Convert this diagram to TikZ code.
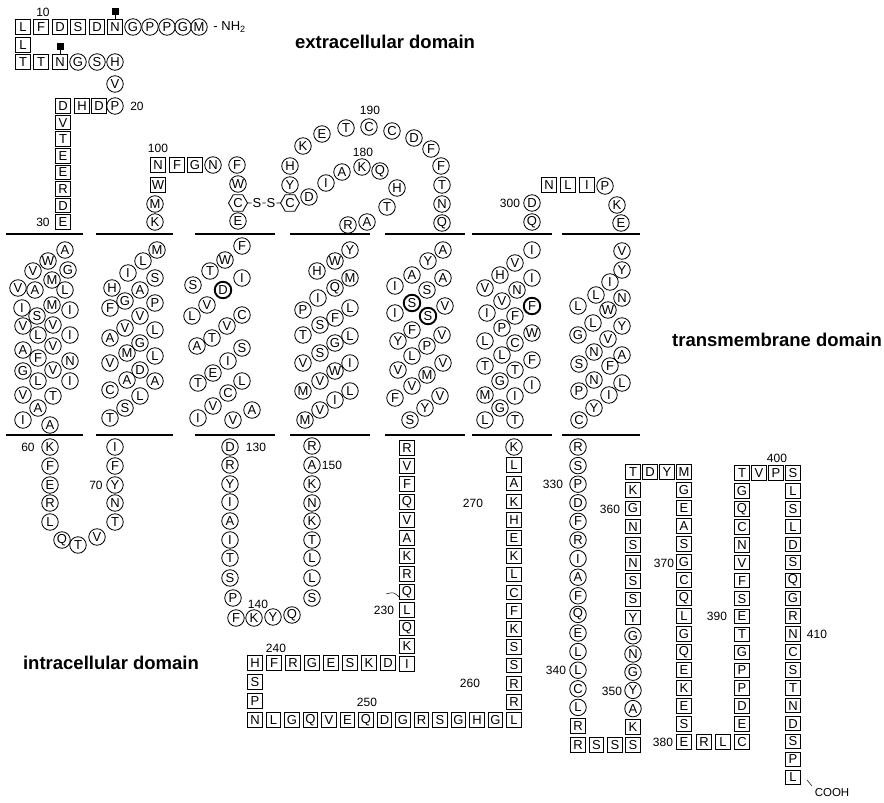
\documentclass[tikz,border=0pt]{standalone}
\usepackage{fontspec}
\setmainfont{Liberation Sans}
\usepackage{tikz}
\usetikzlibrary{positioning,shapes.geometric}

\begin{document}
\begin{tikzpicture}[x=1pt, y=-1pt, font=\fontsize{13}{13}\selectfont, line width=0.85pt,
  res/.style={circle, draw, minimum size=16.5pt, inner sep=0pt},
  box/.style={rectangle, draw, line width=1pt, minimum size=14.5pt, inner sep=0pt},
  hexres/.style={regular polygon, regular polygon sides=6, draw, minimum size=19pt, inner sep=0pt},
  keyres/.style={res, line width=1.9pt},
  num/.style={font=\fontsize{12}{12}\selectfont, inner sep=1pt},
  domlabel/.style={font=\fontsize{18.5}{20}\selectfont\bfseries},
  glyc/.style={fill=black, minimum size=7pt, inner sep=0pt},
  membrane/.style={line width=1.1pt}]

\useasboundingbox (0,0) rectangle (884,803);

\foreach \a/\b in {6/83, 96/173, 195/275, 290/370, 385/465, 472/552, 562/640} {
  \draw[membrane] (\a,234) -- (\b,234);
  \draw[membrane] (\a,435) -- (\b,435);
}

\foreach \x/\a [count=\i] in {23/L,41/F,60/D,78/S,97/D,115/N} \node[box] (ntA\i) at (\x,27) {\a};
\foreach \x/\a [count=\i] in {133/G,150/P,167/P,183/G,199/M} \node[res] (ntB\i) at (\x,27) {\a};
\node[right=2pt of ntB5] (nh2) {- NH\textsubscript{2}};
\node[box] (ntC) at (23,45) {L};
\foreach \x/\a [count=\i] in {23/T,41/T,60/N} \node[box] (ntD\i) at (\x,62) {\a};
\foreach \x/\a [count=\i] in {78/G,97/S,115/H} \node[res] (ntE\i) at (\x,62) {\a};
\node[res] (ntF) at (115,84) {V};
\node[res] (ntG) at (115,106) {P};
\foreach \x/\a [count=\i] in {63/D,82/H,99/D} \node[box] (ntH\i) at (\x,106) {\a};
\foreach \a [count=\i] in {V,T,E,E,R,D,E} \node[box] (ntK\i) at (63,{106+16.6*\i}) {\a};
\node[glyc] (gly1) at (115,11) {};
\node[glyc] (gly2) at (60,46) {};
\draw (gly1) -- (ntA6);
\draw (gly2) -- (ntD3);

\foreach \y/\a [count=\i] in {222/K,204/M} \node[res] (el1A\i) at (155,\y) {\a};
\node[box] (el1W) at (158,185) {W};
\foreach \x/\a [count=\i] in {158/N,177/F,195/G} \node[box] (el1B\i) at (\x,165) {\a};
\node[res] (el1C) at (213,165) {N};
\node[res] (el1D) at (237,165) {F};
\node[res] (el1E) at (238,184) {W};
\node[hexres] (cys1) at (238,203) {C};
\node[res] (el1F) at (238,221) {E};
\node[inner sep=0.5pt] (ss1) at (257,203) {S};
\node[inner sep=0.5pt] (ss2) at (271,203) {S};
\node[hexres] (cys2) at (290,203) {C};
\draw (cys1) -- (ss1) -- (ss2) -- (cys2);

\foreach \x/\y/\a [count=\i] in {348/225/R,367/222/A,387/207/T,397/188/H,380/171/Q,362/167/K,342/172/A,326/183/I,309/197/D}
  \node[res] (el2A\i) at (\x,\y) {\a};
\foreach \x/\y/\a [count=\i] in {290/185/Y,290/166/H,303/146/K,322/134/E,346/128/T,369/127/C,392/131/C,414/138/D,431/149/F,441/166/F,442/185/T,442/204/N,442/223/Q}
  \node[res] (el2B\i) at (\x,\y) {\a};

\foreach \y/\a [count=\i] in {222/Q,203/D} \node[res] (el3A\i) at (532,\y) {\a};
\foreach \x/\a [count=\i] in {549/N,568/L,587/I} \node[box] (el3B\i) at (\x,185) {\a};
\foreach \x/\y/\a [count=\i] in {605/186/P,617/205/K,621/223/E} \node[res] (el3C\i) at (\x,\y) {\a};

\foreach \x/\y/\a [count=\i] in {65/250/A,48/261/W,68/270/G,33/271/V,18/288/V,52/280/M,35/290/A,65/290/L,22/308/I,52/305/M,37/316/S,70/310/I,23/326/V,53/325/V,38/335/L,70/335/I,23/350/A,53/346/V,38/358/F,70/361/N,23/371/G,53/370/V,38/381/L,70/381/I,23/395/V,53/396/T,38/408/A,23/420/I,50/425/A}
  \node[res] (tm1-\i) at (\x,\y) {\a};
\foreach \x/\y/\a [count=\i] in {157/250/M,143/261/L,128/273/I,155/278/S,112/288/H,140/290/A,125/301/G,155/303/P,110/308/F,140/316/V,125/328/V,155/330/L,110/338/A,140/343/G,127/353/M,155/356/L,110/363/V,140/370/D,127/380/A,155/381/A,110/390/C,140/396/L,125/408/S,110/418/T}
  \node[res] (tm2-\i) at (\x,\y) {\a};
\foreach \x/\y/\a [count=\i] in {242/246/F,225/260/W,210/271/T,193/285/S,242/278/I,207/305/V,192/316/L,242/315/C,227/326/V,212/338/T,197/346/A,242/348/S,228/361/I,213/373/E,198/383/T,242/381/L,228/393/C,213/406/V,198/418/I,252/410/A,233/420/V}
  \node[res] (tm3-\i) at (\x,\y) {\a};
\node[keyres] (keyD) at (223,290) {D};
\foreach \x/\y/\a [count=\i] in {350/250/Y,335/261/W,317/271/H,350/278/M,335/288/Q,318/298/I,303/310/P,350/308/L,335/318/F,320/325/S,303/335/T,350/336/L,335/343/G,320/353/S,303/363/V,350/363/I,335/371/W,320/381/V,303/391/M,350/391/L,335/400/I,320/410/V,305/420/M}
  \node[res] (tm4-\i) at (\x,\y) {\a};
\foreach \x/\y/\a [count=\i] in {443/250/A,428/261/Y,412/275/A,395/286/I,443/278/A,427/290/S,395/313/I,445/306/V,412/330/F,398/341/Y,442/335/V,427/346/P,412/356/L,398/370/V,443/363/V,427/375/M,412/386/V,395/398/F,440/396/V,425/408/Y,410/420/S}
  \node[res] (tm5-\i) at (\x,\y) {\a};
\node[keyres] (keyS1) at (412,303) {S};
\node[keyres] (keyS2) at (428,316) {S};
\foreach \x/\y/\a [count=\i] in {532/250/I,515/263/V,500/275/H,485/288/V,532/278/I,517/290/N,502/301/V,487/313/I,515/316/F,502/328/P,485/341/L,532/333/W,515/343/C,502/355/L,485/366/T,532/360/F,515/370/T,500/381/G,485/395/M,532/385/I,515/396/I,500/408/G,485/420/L,515/420/T}
  \node[res] (tm6-\i) at (\x,\y) {\a};
\node[keyres] (keyF) at (532,306) {F};
\foreach \x/\y/\a [count=\i] in {622/251/V,622/270/Y,610/282/I,596/295/L,578/306/L,622/298/N,608/310/W,593/323/L,578/335/G,622/326/Y,608/339/V,594/352/N,579/364/S,622/355/A,610/366/F,594/380/N,579/391/P,622/383/L,609/395/I,594/408/Y,579/420/C}
  \node[res] (tm7-\i) at (\x,\y) {\a};

\foreach \x/\y/\a [count=\i] in {50/447/K,50/466/F,50/485/E,50/503/R,50/522/L,62/540/Q,78/545/T,97/537/V,115/522/T,115/503/N,115/485/Y,115/466/F,115/447/I}
  \node[res] (ic1-\i) at (\x,\y) {\a};
\foreach \x/\y/\a [count=\i] in {230/447/D,230/465/R,230/484/Y,230/502/I,230/521/A,230/540/I,230/558/T,230/578/S,233/598/P,236/618/F,254/618/K,273/617/Y,292/615/Q,312/598/S,312/578/L,312/558/L,312/540/T,312/521/K,312/503/N,312/484/K,312/465/A,312/446/R}
  \node[res] (ic2-\i) at (\x,\y) {\a};

\foreach \a [count=\i from 0] in {R,V,F,Q,V,A,K,R,Q,L,Q,K,I} \node[box] (ic3A\i) at (407,{448+18*\i}) {\a};
\foreach \a [count=\i from 0] in {H,F,R,G,E,S,K,D} \node[box] (ic3B\i) at ({255+19*\i},663) {\a};
\foreach \a [count=\i] in {S,P} \node[box] (ic3C\i) at (255,{663+19*\i}) {\a};
\foreach \a [count=\i from 0] in {N,L,G,Q,V,E,Q,D,G,R,S,G,H,G,L} \node[box] (ic3D\i) at ({255+18.5*\i},720) {\a};
\foreach \a [count=\i] in {R,R,S,S,K,F,C,L,K,E,H,K,A,L} \node[box] (ic3E\i) at (514,{720-18.2*\i}) {\a};
\node[res] (ic3F) at (514,447) {K};
\coordinate (tkA) at (386,594);
\coordinate (tkB) at (400,598);
\draw[line width=0.5pt] (tkA) .. controls (394,592) .. (tkB);

\foreach \a [count=\i from 0] in {R,S,P,D,F,R,I,A,F,Q,E,L,L,C,L} \node[res] (ctA\i) at (578,{447+18.6*\i}) {\a};
\node[box] (ctB1) at (578,726) {R};
\foreach \x/\a [count=\i] in {578/R,596.5/S,615/S,633/S} \node[box] (ctC\i) at (\x,745) {\a};
\node[box] (ctD1) at (633,727) {K};
\foreach \a [count=\i from 2] in {A,Y,G,N,G} \node[res] (ctD\i) at (633,{745-18.2*\i}) {\a};
\foreach \a [count=\i from 7] in {Y,S,S,N,S,N,G,K,T} \node[box] (ctD\i) at (633,{745-18.2*\i}) {\a};
\foreach \x/\a [count=\i] in {650/D,667/Y} \node[box] (ctE\i) at (\x,472) {\a};
\foreach \a [count=\i from 0] in {M,G,E,A,S,G,C,Q,L,G,Q,E,K,E,S,E} \node[box] (ctF\i) at (684,{472+18*\i}) {\a};
\foreach \x/\a [count=\i] in {704/R,723/L} \node[box] (ctG\i) at (\x,742) {\a};
\foreach \a [count=\i from 0] in {C,E,D,P,P,G,T,E,S,F,V,N,C,Q,G,T} \node[box] (ctH\i) at (742,{742-17.93*\i}) {\a};
\foreach \x/\a [count=\i] in {759/V,776/P} \node[box] (ctK\i) at (\x,473) {\a};
\foreach \a [count=\i from 0] in {S,L,S,L,D,S,Q,G,R,N,C,S,T,N,D,S,P,L} \node[box] (ctL\i) at (793,{473+17.9*\i}) {\a};
\node[font=\fontsize{11.5}{12}\selectfont] (cooh) at (832,793) {COOH};
\coordinate (ckA) at (807,780);
\coordinate (ckB) at (812,786);
\draw[line width=0.5pt] (ckA) -- (ckB);

\foreach \x/\y/\t in {43/12/10,137/106/20,43/222/30,28/447/60,96/485/70,158/148/100,256/447/130,258/604/140,332/465/150,363/152/180,370/110/190,384/610/230,276/648/240,367/702/250,470/683/260,473/503/270,510/203/300,553/484/330,556/670/340,612/691/350,610/509/360,664/563/370,663/742/380,717/616/390,777/458/400,817/634/410}
  \node[num] (n\t) at (\x,\y) {\t};

\node[domlabel] (ext) at (385,42) {extracellular domain};
\node[domlabel] (tmd) at (777,340) {transmembrane domain};
\node[domlabel] (intr) at (111,663) {intracellular domain};
\end{tikzpicture}
\end{document}
